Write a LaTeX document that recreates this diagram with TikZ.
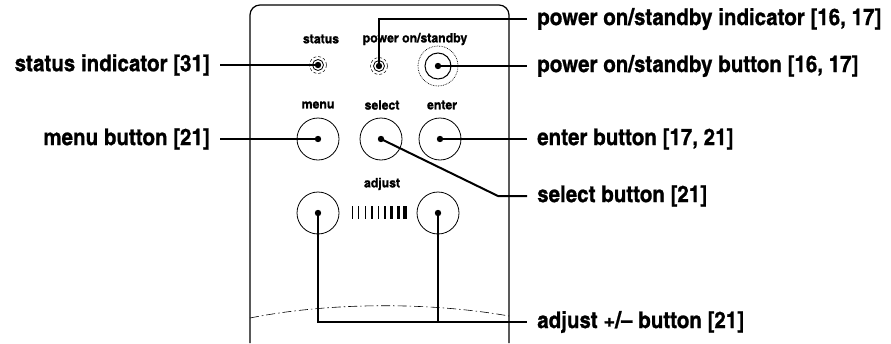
\documentclass[tikz,border=0pt]{standalone}
\usepackage{fontspec}
\newfontfamily\cnfont{texgyreheroscn-bold.otf}[FakeStretch=1.09, FakeBold=0.8]
\newfontfamily\capfont{texgyreheroscn-bold.otf}[FakeStretch=1.15, FakeBold=1]
\usetikzlibrary{positioning}

\begin{document}
\begin{tikzpicture}[x=1pt,y=-1pt,
  leader/.style={line width=2pt},
  callout/.style={font=\cnfont\fontsize{23}{23}\selectfont, inner xsep=10pt, inner ysep=0pt},
  keycap/.style={font=\capfont\fontsize{13}{13}\selectfont, inner sep=0pt},
  knob/.style={circle, draw, line width=0.8pt, minimum size=42pt, inner sep=0pt},
  dot/.style={radius=3.2}]
\useasboundingbox (0,0) rectangle (891,343);
%PANEL
\draw[line width=1.2pt, rounded corners=10pt] (250,343) -- (250,5) -- (509,5) -- (509,343);
\draw[line width=0.6pt, dash pattern=on 9pt off 3pt on 1.5pt off 3pt] (250,318) .. controls (330,302) and (430,302) .. (509,316);
%TOP ROW
\node[circle, draw, line width=0.8pt, minimum size=11pt, inner sep=0pt] (status) at (318,65) {};
\draw[densely dashed, line width=0.5pt] (status.center) circle (8.5);
\node[circle, draw, line width=0.8pt, minimum size=11pt, inner sep=0pt] (pind) at (379,66) {};
\draw[densely dashed, line width=0.5pt] (pind.center) circle (8.5);
\node[circle, draw, line width=1pt, minimum size=26pt, inner sep=0pt] (power) at (438,66) {};
\draw[densely dotted, line width=0.7pt] (power.center) circle (20);
\node[keycap] at (321,39) {status};
\node[keycap] at (415,39) {power on/standby};
%MIDDLE ROW
\node[knob] (menu) at (318,139) {};
\node[knob] (select) at (381,139) {};
\node[knob] (enter) at (440,139) {};
\node[keycap] at (318,105) {menu};
\node[keycap] at (382,105) {select};
\node[keycap] at (442,105) {enter};
%BOTTOM ROW
\node[knob] (adjm) at (318,213) {};
\node[knob] (adjp) at (438,213) {};
\node[keycap] at (382,184) {adjust};
\foreach \i/\w in {0/1,1/1,2/1.2,3/1.3,4/1.5,5/1.8,6/2.3,7/3,8/3.6}
  \fill (352+\i*6.4,206) rectangle ++(\w,13);
%CALLOUTS
\node[callout, anchor=east] (statusL) at (220,65) {status indicator [31]};
\node[callout, anchor=east] (menuL) at (220,139) {menu button [21]};
\node[callout, anchor=west] (pindL) at (527,19) {power on/standby indicator [16, 17]};
\node[callout, anchor=west] (powerL) at (527,66) {power on/standby button [16, 17]};
\node[callout, anchor=west] (enterL) at (527,139) {enter button [17, 21]};
\node[callout, anchor=west] (selectL) at (527,196) {select button [21]};
\node[callout, anchor=west] (adjustL) at (527,322) {adjust +/– button [21]};
\coordinate (selbend) at (498,196);
% Leaders
\draw[leader] (statusL) -- (status.center);
\draw[leader] (menuL) -- (menu.center);
\draw[leader] (pind.center) |- (pindL.west);
\draw[leader] (power.center) -- (powerL.west);
\draw[leader] (enter.center) -- (enterL.west);
\draw[leader] (select.center) -- (selbend) -- (selectL.west);
\draw[leader] (adjm.center) |- (adjustL.west);
\draw[leader] (adjp.center) -- (adjp.center |- adjustL.west);
\foreach \k in {status,pind,power,menu,select,enter,adjm,adjp}
  \fill (\k.center) circle[dot];
\end{tikzpicture}
\end{document}
